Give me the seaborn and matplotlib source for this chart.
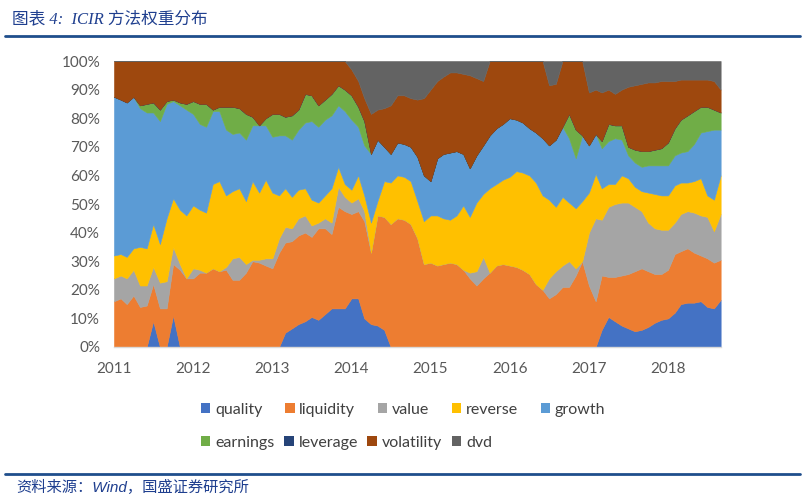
import numpy as np
import pandas as pd
import matplotlib
matplotlib.use('Agg')
import matplotlib.pyplot as plt
import seaborn as sns
from matplotlib.lines import Line2D
from matplotlib.patches import Patch

# monthly weights (%), Jan 2011 - Sep 2018
dates = pd.date_range('2011-01-01', periods=93, freq='MS')

quality = [0, 0, 0, 0, 0, 0, 9, 0, 0, 11,
           0, 0, 0, 0, 0, 0, 0, 0, 0, 0,
           0, 0, 0, 0, 0, 0, 5, 6.5, 8, 9,
           10.5, 9.5, 11.5, 13.5, 13.5, 13.5, 17, 17, 10, 8,
           7.5, 6, 0, 0, 0, 0, 0, 0, 0, 0,
           0, 0, 0, 0, 0, 0, 0, 0, 0, 0,
           0, 0, 0, 0, 0, 0, 0, 0, 0, 0,
           0, 0, 0, 0, 6, 10.5, 9, 7.5, 6.5, 5.5,
           6, 7, 8.5, 9.5, 10, 12, 15, 15.5, 15.5, 16,
           14, 13.5, 16.5]
liquidity = [16, 17, 15, 18, 14, 14.5, 13, 13.5, 13.5, 18,
             27, 24, 24, 26, 26, 27.5, 26.5, 27, 23.5, 23.5,
             26, 30, 29.5, 28.5, 27.5, 33, 31.5, 30.5, 31, 31,
             28, 32, 30, 26, 35.5, 34, 29.5, 30.5, 34, 25,
             38.5, 39.5, 43, 45, 44.5, 43, 38, 29, 29.5, 28.5,
             29, 29.5, 29, 27, 24, 21.5, 24, 26, 28.5, 29,
             28.5, 28, 27, 25.5, 22, 20, 17, 18.5, 21, 21,
             25, 30, 21.5, 16, 19, 14, 15.5, 17.5, 19, 21,
             21.5, 19.5, 17, 16, 17, 20.5, 18.5, 19, 17.5, 16,
             17, 16, 14]
value = [8, 8, 9, 9, 7.5, 7, 6, 9, 9.5, 6,
         2, 0, 3.5, 1, 0, 0, 0, 1, 7.5, 8,
         3, 0.5, 1, 2.5, 3.5, 5, 5.5, 4.5, 6, 6,
         4, 2, 3.5, 4, 7, 5, 4, 4.5, 3.5, 0,
         0, 0, 0, 0, 0, 0, 0, 0, 0, 0,
         0, 0, 0, 0, 2, 5, 7.5, 0, 0, 0,
         0, 0, 0, 0, 0, 0, 7, 8, 7.5, 9,
         2.5, 0, 18.5, 29, 19.5, 24.5, 25.5, 25.5, 25, 22.5,
         20, 17, 16, 15.5, 14, 11, 13, 13, 14, 14,
         14.5, 11, 16]
reverse = [8, 7.5, 7.5, 7.5, 13.5, 13, 15, 13.5, 22, 17,
           19, 22, 22, 21, 21, 29.5, 31.5, 25, 23.5, 24,
           22, 27.5, 23.5, 27.5, 23, 15, 13.5, 11, 10, 9.5,
           9, 7, 8, 12, 7, 4.5, 4.5, 8, 5.5, 10.5,
           5, 12.5, 14.5, 15, 15, 15, 13, 15, 16.5, 17.5,
           16, 15, 17, 22.5, 19.5, 24, 22, 29.5, 28.5, 29.5,
           31, 33.5, 34, 34.5, 35.5, 33, 27.5, 22.5, 24, 20.5,
           21, 21, 14, 15.5, 11, 8, 7, 9.5, 8.5, 7,
           7, 10.5, 12, 12, 12, 13, 11, 10, 11, 13,
           7.5, 11, 13.5]
growth = [55.5, 54, 54, 53, 48.5, 47.5, 39, 43, 40, 34,
          36.5, 37, 32, 30, 30, 25.5, 24.5, 23, 20, 19.5,
          21.5, 19.5, 23.5, 19, 19.5, 21, 18.5, 20, 21, 23,
          27.5, 26.5, 26.5, 25.5, 21.5, 25.5, 24.5, 17, 17.5, 24,
          21.5, 12, 10, 11.5, 11.5, 12, 15.5, 16, 12, 20,
          22.5, 23.5, 22.5, 18, 17, 16.5, 17, 18.5, 19.5, 19.5,
          20.5, 18, 17.5, 16.5, 17.5, 20, 19, 23.5, 24.5, 22.5,
          17.5, 23, 16.5, 14, 14, 15, 16, 12.5, 8, 8.5,
          8.5, 9.5, 10, 10.5, 10.5, 10.5, 10.5, 11, 13, 16,
          22.5, 24.5, 16]
earnings = [0, 0, 0, 0, 1, 3, 3.5, 4, 1, 0.5,
            1, 2, 4.5, 7, 8, 0.5, 1.5, 8, 9.5, 8.5,
            9, 3, 0, 2.5, 8, 7.5, 6.5, 8.5, 7, 10,
            9, 7.5, 7, 7.5, 7, 7.5, 8.5, 7, 8.5, 0,
            0, 0, 0, 0, 0, 0, 0, 0, 0, 0,
            0, 0, 0, 0, 0, 0, 0, 0, 0, 0,
            0, 0, 0, 0, 0, 0, 0, 0, 0, 8.5,
            10, 0, 0, 0, 2.5, 6, 4.5, 5, 3, 4.5,
            5.5, 5, 5.5, 6, 8, 9.5, 11.5, 12.5, 11.5, 9,
            8.5, 7, 6]
leverage = [0] * 93
volatility = [12.5, 13.5, 14.5, 12.5, 15.5, 15, 14.5, 17, 14, 13.5,
              14.5, 15, 14, 15, 15, 17, 16, 16, 16, 16.5,
              18.5, 19.5, 22.5, 20, 18.5, 18.5, 19.5, 19, 17, 11.5,
              12, 15.5, 13.5, 11.5, 8.5, 10, 9, 9, 8, 14,
              10.5, 13.5, 17, 16.5, 17, 17, 20, 27, 32, 27,
              27, 28, 27.5, 28, 32.5, 27, 22.5, 26, 23.5, 22,
              20, 20.5, 21.5, 23.5, 25, 27, 21, 19.5, 23, 18.5,
              24, 26, 18.5, 15.5, 17, 12, 11, 12.5, 21, 22.5,
              23.5, 24, 23.5, 23.5, 21.5, 16.5, 14, 12.5, 11, 9.5,
              9.5, 10, 8]
dvd = [0, 0, 0, 0, 0, 0, 0, 0, 0, 0,
       0, 0, 0, 0, 0, 0, 0, 0, 0, 0,
       0, 0, 0, 0, 0, 0, 0, 0, 0, 0,
       0, 0, 0, 0, 0, 0, 3, 7, 13, 18.5,
       17, 16.5, 15.5, 12, 12, 13, 13.5, 13, 10, 7,
       5.5, 4, 4, 4.5, 5, 6, 7, 0, 0, 0,
       0, 0, 0, 0, 0, 0, 8.5, 8, 0, 0,
       0, 0, 11, 10, 11, 10, 11.5, 10, 9, 8.5,
       8, 7.5, 7.5, 7, 7, 7, 6.5, 6.5, 6.5, 6.5,
       6.5, 7, 10]

labels = ['quality', 'liquidity', 'value', 'reverse', 'growth',
          'earnings', 'leverage', 'volatility', 'dvd']
colors = ['#4472C4', '#ED7D31', '#A5A5A5', '#FFC000', '#5B9BD5',
          '#70AD47', '#264478', '#9E480E', '#636363']
years = [2011, 2012, 2013, 2014, 2015, 2016, 2017, 2018]

sns.set_style('white')
plt.rcParams['font.family'] = ['Lato', 'Noto Sans CJK SC', 'DejaVu Sans']

fig = plt.figure(figsize=(8.1, 5.0), dpi=100)
ax = fig.add_axes([0.1407, 0.306, 0.749, 0.572])

polys = ax.stackplot(dates, quality, liquidity, value, reverse, growth,
                     earnings, leverage, volatility, dvd, colors=colors)
for p, c in zip(polys, colors):
    p.set_edgecolor(c)
    p.set_linewidth(0.4)

ax.set_xlim(dates[0], dates[-1])
ax.set_ylim(0, 100)
ax.set_yticks(range(0, 101, 10))
ax.set_yticklabels([f'{v}%' for v in range(0, 101, 10)])
ax.set_xticks(pd.to_datetime([f'{y}-01-01' for y in years]))
ax.set_xticklabels([str(y) for y in years])

for s in ['top', 'right', 'left']:
    ax.spines[s].set_visible(False)
ax.spines['bottom'].set_color('#D9D9D9')
ax.spines['bottom'].set_linewidth(1)
ax.tick_params(axis='x', direction='out', length=5, color='#D9D9D9',
               labelsize=11, labelcolor='#595959', pad=6)
ax.tick_params(axis='y', length=0, labelsize=11, labelcolor='#595959', pad=10)

handles = [Patch(facecolor=c, edgecolor='none') for c in colors]
leg_kw = dict(frameon=False, fontsize=11.5, handlelength=0.6, handleheight=0.6,
              handletextpad=0.3, borderpad=0, borderaxespad=0, labelcolor='#404040')
leg1 = fig.legend(handles[:5], labels[:5], loc='center left',
                  bbox_to_anchor=(0.248, 0.18), ncol=5, columnspacing=1.4, **leg_kw)
leg2 = fig.legend(handles[5:], labels[5:], loc='center left',
                  bbox_to_anchor=(0.248, 0.114), ncol=4, columnspacing=0.6, **leg_kw)

# header / footer
blue = '#1F3F8F'
fig.text(12 / 810, 1 - 19 / 500, '图表 4:  ICIR 方法权重分布', color=blue,
         fontsize=12, style='italic', va='center',
         family=['Liberation Serif', 'Noto Sans CJK SC'])
fig.add_artist(Line2D([5 / 810, 800 / 810], [1 - 36 / 500] * 2,
                      color='#1F4E8C', lw=2))
fig.add_artist(Line2D([5 / 810, 800 / 810], [1 - 474 / 500] * 2,
                      color='#1F4E8C', lw=2))
fig.text(16 / 810, 1 - 487 / 500, '资料来源：Wind，国盛证券研究所', color=blue,
         fontsize=11, style='italic', va='center',
         family=['Liberation Sans', 'Noto Sans CJK SC'])

fig.savefig('out.png', dpi=100)
